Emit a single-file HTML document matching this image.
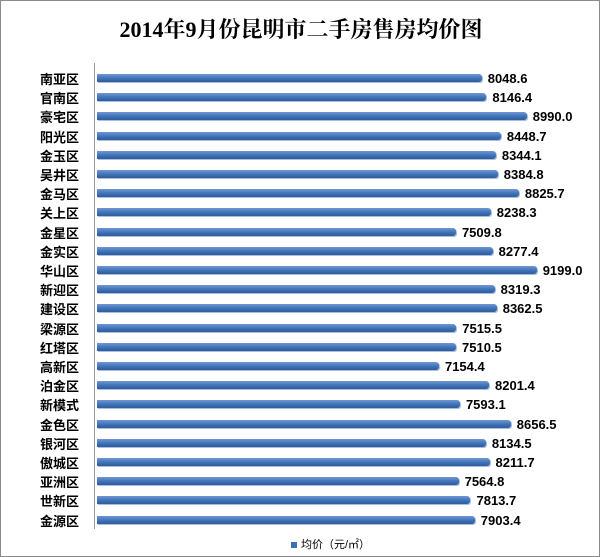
<!DOCTYPE html>
<html><head><meta charset="utf-8"><style>
body{margin:0;background:#fff;}
.wrap{position:relative;width:598px;height:555px;border:1px solid #8a8a8a;font-family:"Liberation Sans","Noto Sans CJK SC",sans-serif;overflow:hidden;}
.title{position:absolute;top:12px;left:0;width:600px;text-align:center;font-size:22px;font-weight:bold;font-family:"Liberation Serif","Noto Serif CJK SC",serif;}
.lab{position:absolute;left:8px;width:70px;text-align:right;font-size:13px;font-weight:bold;}
.bar{position:absolute;left:96px;height:8px;background:linear-gradient(#6f98d2,#3c6fb5 60%,#2f5d9c);border-radius:0 3px 3px 0;box-shadow:1px 1px 0 #a9bedc;}
.val{position:absolute;font-size:13px;font-weight:bold;}
.axis{position:absolute;left:93px;top:62px;width:1px;height:466px;background:#999;}
.leg{position:absolute;top:535px;left:290px;font-size:11px;}
</style></head><body><div class="wrap">
<div class="title">2014年9月份昆明市二手房售房均价图</div>
<div class="axis"></div>
<div id="c"></div>
<div class="leg"><span style="display:inline-block;width:6px;height:6px;background:#3c6fb5;margin-right:4px"></span>均价（元/㎡）</div>
</div>
<script>
var d=[["南亚区",8048.6],["官南区",8146.4],["豪宅区",8990.0],["阳光区",8448.7],["金玉区",8344.1],["吴井区",8384.8],["金马区",8825.7],["关上区",8238.3],["金星区",7509.8],["金实区",8277.4],["华山区",9199.0],["新迎区",8319.3],["建设区",8362.5],["梁源区",7515.5],["红塔区",7510.5],["高新区",7154.4],["泊金区",8201.4],["新模式",7593.1],["金色区",8656.5],["银河区",8134.5],["傲城区",8211.7],["亚洲区",7564.8],["世新区",7813.7],["金源区",7903.4]];
var h="";d.forEach(function(r,i){var y=77+i*19.2;var w=r[1]*0.0478;
h+='<div class="lab" style="top:'+(y-9)+'px">'+r[0]+'</div><div class="bar" style="top:'+(y-4)+'px;width:'+w+'px"></div><div class="val" style="top:'+(y-7)+'px;left:'+(96+w+6)+'px">'+r[1].toFixed(1)+'</div>';});
document.getElementById("c").innerHTML=h;
</script>
</body></html>
